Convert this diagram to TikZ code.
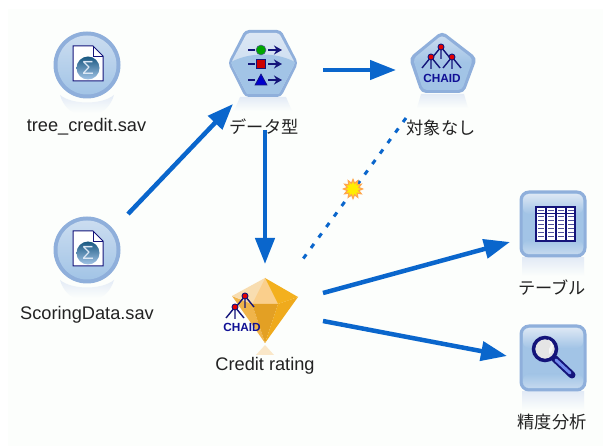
\documentclass[tikz,border=0pt]{standalone}
\usepackage{fontspec}
\setmainfont{Liberation Sans}
\newfontfamily\jpfont{Noto Sans CJK JP}
\usetikzlibrary{arrows.meta,shapes.geometric,calc}
\definecolor{flowblue}{HTML}{0A66CC}
\definecolor{ringblue}{HTML}{8FAFDB}
\definecolor{bodyblue}{HTML}{A2C4E6}
\definecolor{paleblue}{HTML}{DCE7F4}
\definecolor{reflectblue}{HTML}{E3EBF6}
\definecolor{navyicon}{HTML}{14147A}
\definecolor{txt}{HTML}{222222}
\definecolor{pagebg}{HTML}{FCFEFC}
\tikzset{
  anchorpt/.style={inner sep=0pt,minimum size=0pt},
  flow/.style={draw=flowblue,line width=4.5pt,-{Triangle[length=26pt,width=19pt]}},
  linkdash/.style={draw=flowblue,line width=3pt,dash pattern=on 5pt off 8pt},
  lab/.style={font=\fontsize{18.2}{20}\selectfont,text=txt,inner sep=0pt},
  jlab/.style={font=\jpfont\fontsize{17.2}{20}\selectfont,text=txt,inner sep=0pt},
  chaidtxt/.style={font=\bfseries\fontsize{11.8}{12}\selectfont,text=navyicon!80!blue,inner sep=0pt},
  treeleg/.style={draw=navyicon,line width=1.4pt},
  treeknot/.style={circle,fill=red!90!black,draw=navyicon,line width=0.9pt,inner sep=0pt,minimum size=6pt},
  sourcepic/.pic={
    \path[top color=reflectblue,bottom color=pagebg] (-27,30) .. controls (-15,40) and (15,40) .. (27,30) .. controls (24,40) and (18,46) .. (12,48) -- (-12,48) .. controls (-18,46) and (-24,40) .. (-27,30) -- cycle;
    \fill[ringblue] (0,0) circle (33.5);
    \shade[top color=paleblue!70!bodyblue,bottom color=bodyblue] (0,0) circle (29.5);
    \filldraw[fill=white,draw=navyicon,line width=1pt] (-14,-19) -- (6,-19) -- (16,-9) -- (16,16) -- (-14,16) -- cycle;
    \draw[navyicon,line width=0.9pt] (6,-19) -- (6,-9) -- (16,-9);
    \shade[top color=blue!40!cyan!45!black!90,bottom color=bodyblue] (1,3) circle (11.5);
    \node[anchorpt,text=paleblue,font=\fontsize{19}{19}\selectfont] at (1,3) {Σ};
  },
  treemini/.pic={
    \draw[treeleg] (0,0) -- (-9,11) (0,0) -- (0,12) (0,0) -- (9,11);
    \node[treeknot] at (0,0) {};
  }
}
\begin{document}
\begin{tikzpicture}[x=1pt,y=-1pt]
\useasboundingbox (0,0) rectangle (603,446);
\fill[white] (0,0) rectangle (603,446);
\fill[pagebg] (8,9) rectangle (603,446);

% anchors of the icons
\node[anchorpt] (tree)  at (87,65) {};
\node[anchorpt] (score) at (87,250) {};
\node[anchorpt] (typen) at (263,63) {};
\node[anchorpt] (chaid) at (442,62) {};
\node[anchorpt] (gem)   at (265,310) {};
\node[anchorpt] (table) at (553,224) {};
\node[anchorpt] (anal)  at (553,358) {};

% source icons
\pic at (tree) {sourcepic};
\pic at (score) {sourcepic};

% type hexagon
\path[top color=reflectblue,bottom color=pagebg] (240,97) -- (286,97) -- (292,111) -- (234,111) -- cycle;
\path[rounded corners=4pt,fill=ringblue] (245,30) -- (281,30) -- (298,63) -- (281,97) -- (245,97) -- (228,63) -- cycle;
\shade[rounded corners=3pt,top color=paleblue,bottom color=paleblue!55!bodyblue] (247,33) -- (279,33) -- (295,63) -- (279,94) -- (247,94) -- (231,63) -- cycle;
\begin{scope}
\clip (247,33) -- (279,33) -- (295,63) -- (279,94) -- (247,94) -- (231,63) -- cycle;
\fill[bodyblue] (231,94) -- (231,62) .. controls (250,52) and (276,52) .. (295,62) -- (295,94) -- cycle;
\end{scope}
\draw[navyicon,line width=1.4pt] (248,50) -- (255,50) (248,64) -- (255,64) (248,80) -- (255,80);
\node[circle,fill=green!65!black,draw=navyicon!70,line width=0.5pt,inner sep=0pt,minimum size=10pt] at (261,50) {};
\node[rectangle,fill=red!80!black,draw=navyicon,line width=0.7pt,inner sep=0pt,minimum size=9pt] at (261,64) {};
\fill[blue!80!black,draw=navyicon,line width=0.6pt] (261,74) -- (267,85) -- (255,85) -- cycle;
\draw[navyicon,line width=1.5pt,-{Stealth[length=8pt,width=9pt]}] (268,50) -- (282,50);
\draw[navyicon,line width=1.5pt,-{Stealth[length=8pt,width=9pt]}] (268,64) -- (282,64);
\draw[navyicon,line width=1.5pt,-{Stealth[length=8pt,width=9pt]}] (268,80) -- (282,80);

% CHAID pentagon
\path[top color=reflectblue,bottom color=pagebg] (421,94) -- (464,94) -- (468,108) -- (417,108) -- cycle;
\path[rounded corners=5pt,fill=ringblue] (442,31) -- (477,58) -- (464,93) -- (421,93) -- (409,58) -- cycle;
\shade[rounded corners=4pt,top color=paleblue!70!bodyblue,bottom color=bodyblue,middle color=bodyblue] (442,35) -- (473,59) -- (462,90) -- (423,90) -- (413,59) -- cycle;
\pic at (441,47) {treemini};
\pic at (431,57) {treemini};
\pic at (452,57) {treemini};
\node[chaidtxt] (chaidword) at (442,78) {CHAID};

% table icon
\path[top color=reflectblue,bottom color=pagebg] (522,258) -- (584,258) -- (584,276) -- (522,276) -- cycle;
\draw[ringblue,line width=3pt,rounded corners=8pt,fill=bodyblue] (521,192) rectangle (585,256);
\path[top color=paleblue,bottom color=bodyblue,rounded corners=6pt] (523,194) rectangle (583,214);
\path[top color=bodyblue,bottom color=paleblue!60!bodyblue,rounded corners=6pt] (523,240) rectangle (583,254);
\fill[white] (536,207) rectangle (575,241);
\draw[navyicon,line width=1.1pt] (536,207) rectangle (575,241) (536,213.500) -- (575,213.500) (546,207) -- (546,241) (556,207) -- (556,241) (566,207) -- (566,241);
\foreach \cx in {541,551,561,571}{
  \foreach \cy in {210.2,217,221,225,229,233,237}{
    \draw[navyicon!75!white,line width=1pt] (\cx-2.800,\cy) -- (\cx+2.800,\cy);
  }
}

% analysis icon
\path[top color=reflectblue,bottom color=pagebg] (522,392) -- (584,392) -- (584,410) -- (522,410) -- cycle;
\draw[ringblue,line width=3pt,rounded corners=8pt,fill=bodyblue] (521,326) rectangle (585,390);
\path[top color=paleblue,bottom color=bodyblue,rounded corners=6pt] (523,328) rectangle (583,348);
\path[top color=bodyblue,bottom color=paleblue!60!bodyblue,rounded corners=6pt] (523,374) rectangle (583,388);
\draw[navyicon,line width=7pt,line cap=round] (554,358) -- (572,375);
\draw[bodyblue!70!blue,line width=3pt,line cap=round] (556,360) -- (570,373);
\filldraw[fill=white!80!gray,draw=navyicon,line width=3.500pt] (545,349) circle (11.500);
\fill[white!94!gray] (549,349) .. controls (552,345) and (551,342) .. (548,339.500) .. controls (554,341) and (555,350) .. (549,354) -- cycle;

% gem
\definecolor{gemA}{HTML}{F8DDB0}
\definecolor{gemB}{HTML}{FACF8C}
\definecolor{gemC}{HTML}{F3B01E}
\definecolor{gemD}{HTML}{E3A024}
\definecolor{gemE}{HTML}{EFAA1C}
\definecolor{gemF}{HTML}{F0B44A}
\fill[gemA!70!white] (265,345) -- (274,355) -- (256,355) -- cycle;
\fill[gemF] (232,296) -- (252,304) -- (265,343) -- cycle;
\fill[gemA] (265,278) -- (232,296) -- (252,304) -- cycle;
\fill[gemB] (265,278) -- (252,304) -- (278,304) -- cycle;
\fill[gemD] (252,304) -- (278,304) -- (265,343) -- cycle;
\fill[gemE] (278,304) -- (298,297) -- (265,343) -- cycle;
\fill[gemC] (265,278) -- (278,304) -- (298,297) -- cycle;
\pic at (245,296) {treemini};
\pic at (235,307) {treemini};
\node[chaidtxt] (gemword) at (242,327) {CHAID};

% connectors
\draw[flow] ([shift={(41,-36)}]score.center) -- ([shift={(-30,41)}]typen.center);
\draw[flow] ([shift={(60,7)}]typen.center) -- ([shift={(-46,8)}]chaid.center);
\draw[flow] ([shift={(2,67)}]typen.center) -- ([shift={(0,-46)}]gem.center);
\draw[flow] ([shift={(58,-17)}]gem.center) -- ([shift={(-43,18)}]table.center);
\draw[flow] ([shift={(58,11)}]gem.center) -- ([shift={(-46,-2)}]anal.center);
\draw[linkdash] ([shift={(-36,56)}]chaid.center) -- ([shift={(35,-47)}]gem.center);
\node[star,star points=12,star point ratio=1.6,fill=yellow!95!orange,draw=orange!70!white,line width=1.2pt,inner sep=0pt,minimum size=19pt] (spark) at (353,189) {};

% labels
\node[lab] (l1) at (86.500,127) {tree\_credit.sav};
\node[lab] (l2) at (87,315) {ScoringData.sav};
\node[lab] (l3) at (265,366) {Credit rating};
\node[jlab] (l4) at (264,127) {データ型};
\node[jlab] (l5) at (441,128) {対象なし};
\node[jlab] (l6) at (552,288) {テーブル};
\node[jlab] (l7) at (552,422) {精度分析};
\end{tikzpicture}
\end{document}
